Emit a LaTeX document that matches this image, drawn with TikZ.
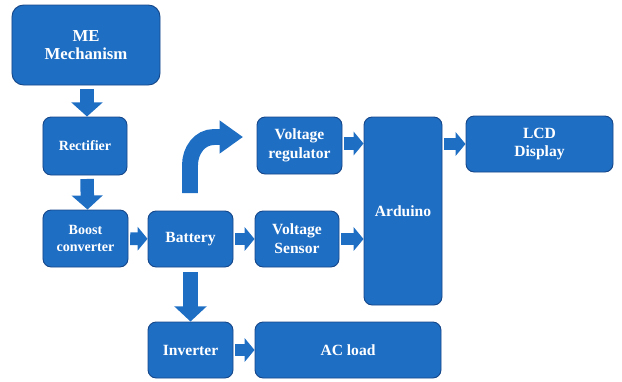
\documentclass[tikz,border=0pt]{standalone}
\usepackage{fontspec}
\setmainfont{Liberation Serif}
\usepackage{xcolor}
\usetikzlibrary{arrows.meta}
\definecolor{blkblue}{RGB}{30,110,196}
\definecolor{blkline}{RGB}{22,72,138}

\tikzset{
 blk/.style={draw=blkline, line width=0.8pt, fill=blkblue, rounded corners=7pt, text=white, align=center, inner sep=0pt, font=\bfseries\fontsize{13.3}{16}\selectfont},
 flow/.style={blkblue, line width=11pt, -{Triangle[width=20pt,length=8.5pt]}, shorten <=1.5pt},
 flowbig/.style={blkblue, line width=12.5pt, -{Triangle[width=27pt,length=13pt]}, shorten <=3pt}
}

\begin{document}
\begin{tikzpicture}[x=0.03cm, y=-0.03cm]
 \useasboundingbox (0,0) rectangle (622,381);
 %blocks:
 \node[blk, rounded corners=10pt, minimum width=4.44cm, minimum height=2.4cm, font=\bfseries\fontsize{14.3}{16}\selectfont] (me) at (86,45) {ME\\Mechanism};
 \node[blk, minimum width=2.52cm, minimum height=1.74cm, font=\bfseries\fontsize{12}{14}\selectfont] (rect) at (85,146) {Rectifier};
 \node[blk, minimum width=2.55cm, minimum height=1.71cm, font=\bfseries\fontsize{12}{14.5}\selectfont] (boost) at (85.5,238.5) {Boost\\converter};
 \node[blk, minimum width=2.55cm, minimum height=1.68cm] (bat) at (190.5,239) {Battery};
 \node[blk, minimum width=2.52cm, minimum height=1.68cm] (vsen) at (297,239) {Voltage\\Sensor};
 \node[blk, minimum width=2.55cm, minimum height=1.71cm] (vreg) at (299.5,145.5) {Voltage\\regulator};
 \node[blk, minimum width=2.34cm, minimum height=5.64cm] (ard) at (403,211) {Arduino};
 \node[blk, minimum width=4.41cm, minimum height=1.68cm] (lcd) at (539.5,144) {LCD\\Display};
 \node[blk, minimum width=2.55cm, minimum height=1.68cm] (inv) at (190.5,350) {Inverter};
 \node[blk, minimum width=5.58cm, minimum height=1.68cm] (acl) at (348,350) {AC load};

 %arrows:
 \draw[flowbig, line width=11.5pt, -{Triangle[width=26pt,length=12pt]}] ([xshift=0.03cm]me.south) -- ([xshift=0.06cm]rect.north);
 \draw[flowbig, line width=11.5pt, -{Triangle[width=26pt,length=12pt]}] ([xshift=0.06cm]rect.south) -- ([xshift=0.06cm]boost.north);
 \draw[flow] (boost) -- (bat);
 \draw[flow] (bat) -- (vsen);
 \draw[flow] (vsen.east) -- (vsen.east -| ard.west);
 \draw[flow] ([yshift=0.06cm]vreg.east) -- ([yshift=0.06cm]vreg.east -| ard.west);
 \draw[flow] (lcd.west -| ard.east) -- (lcd.west);
 \draw[flowbig, shorten <=4pt] (bat) -- (inv);
 \draw[flow] (inv) -- (acl);

 %curved arrow:
 \coordinate (cbot) at (190,193);
 \coordinate (ctop) at (243,137);
 \draw[blkblue, line width=13.6pt, -{Triangle[width=27pt,length=20pt]}] (cbot) -- (190,165) to[out=90,in=180] (214,137) -- (ctop);
\end{tikzpicture}
\end{document}
